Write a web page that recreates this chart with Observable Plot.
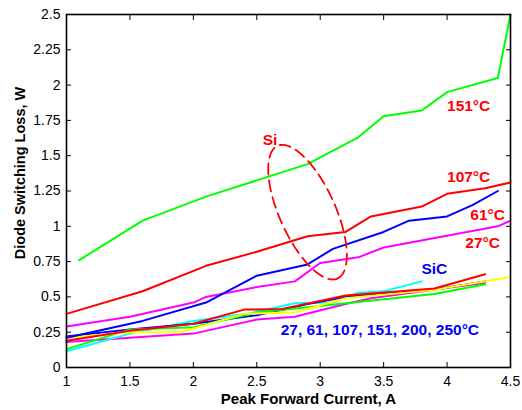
<!DOCTYPE html>
<html>
<head>
<meta charset="utf-8">
<script src="https://cdn.jsdelivr.net/npm/d3@7"></script>
<script src="https://cdn.jsdelivr.net/npm/@observablehq/plot@0.6"></script>
<style>
  html, body { margin: 0; padding: 0; background: white; }
</style>
</head>
<body>
<div id="chart"></div>
<script>
// ---- Axis ticks ----
const xTicks = [1, 1.5, 2, 2.5, 3, 3.5, 4, 4.5];
const yTicks = [0, 0.25, 0.5, 0.75, 1, 1.25, 1.5, 1.75, 2, 2.25, 2.5];

// ---- Si diode series (x = peak forward current A, y = loss W) ----
const si27X  = [1, 1.5, 2.0, 2.1, 2.5, 2.8, 3.0, 3.3, 3.5, 4.4, 4.5];
const si27Y  = [0.29, 0.36, 0.46, 0.50, 0.57, 0.61, 0.74, 0.78, 0.85, 1.0, 1.04];
const si61X  = [1, 1.6, 2.1, 2.5, 2.9, 3.1, 3.5, 3.7, 4.0, 4.2, 4.4];
const si61Y  = [0.21, 0.33, 0.46, 0.65, 0.73, 0.84, 0.96, 1.04, 1.07, 1.15, 1.25];
const si107X = [1, 1.6, 2.1, 2.5, 2.9, 3.2, 3.4, 3.8, 4.0, 4.3, 4.5];
const si107Y = [0.38, 0.54, 0.72, 0.82, 0.93, 0.96, 1.07, 1.14, 1.23, 1.27, 1.31];
const si151X = [1.1, 1.6, 2.1, 2.9, 3.3, 3.5, 3.8, 4.0, 4.4, 4.5];
const si151Y = [0.76, 1.04, 1.21, 1.44, 1.63, 1.78, 1.82, 1.95, 2.05, 2.5];

// ---- SiC diode series ----
const sicRedX     = [1, 1.5, 2.0, 2.4, 2.7, 3.2, 3.9, 4.3];
const sicRedY     = [0.19, 0.26, 0.31, 0.41, 0.415, 0.51, 0.56, 0.66];
const sicYellowX  = [1, 1.5, 1.9, 2.4, 2.8, 3.2, 3.9, 4.5];
const sicYellowY  = [0.21, 0.25, 0.25, 0.38, 0.39, 0.49, 0.55, 0.64];
const sicGreenX   = [1, 1.5, 2.0, 2.5, 3.15, 3.9, 4.3];
const sicGreenY   = [0.13, 0.27, 0.285, 0.39, 0.45, 0.52, 0.59];
const sicCyanX    = [1, 1.5, 2.0, 2.45, 2.8, 3.1, 3.3, 3.5, 3.8];
const sicCyanY    = [0.115, 0.24, 0.33, 0.385, 0.455, 0.46, 0.53, 0.54, 0.61];
const sicBlueX    = [1, 1.5, 2.0, 2.5, 2.9, 3.2, 3.95, 4.3];
const sicBlueY    = [0.22, 0.27, 0.31, 0.37, 0.45, 0.50, 0.56, 0.61];
const sicMagentaX = [1, 1.5, 2.0, 2.5, 2.8, 3.2, 3.4, 4.3];
const sicMagentaY = [0.18, 0.21, 0.24, 0.34, 0.36, 0.45, 0.49, 0.60];

// ---- Annotations ----
const annotText  = ["151°C", "107°C", "61°C", "27°C", "SiC", "27, 61, 107, 151, 200, 250°C", "Si"];
const annotX     = [4.17, 4.17, 4.32, 4.28, 3.90, 3.47, 2.605];
const annotY     = [1.855, 1.35, 1.08, 0.88, 0.70, 0.267, 1.61];
const annotColor = ["#ff0000", "#ff0000", "#ff0000", "#ff0000", "#0000ff", "#0000ff", "#ff0000"];

// Si grouping ellipse (data units): center, semi-major & semi-minor vectors
const ellipseCenter = [2.90, 1.10];
const ellipseMajor  = [0.236, -0.470];
const ellipseMinor  = [0.201, 0.081];

const series = [
  {x: sicMagentaX, y: sicMagentaY, c: "#ff00ff"},
  {x: sicCyanX,    y: sicCyanY,    c: "#00ffff"},
  {x: sicBlueX,    y: sicBlueY,    c: "#0000ff"},
  {x: sicGreenX,   y: sicGreenY,   c: "#00ff00"},
  {x: sicYellowX,  y: sicYellowY,  c: "#ffff00"},
  {x: sicRedX,     y: sicRedY,     c: "#ff0000"},
  {x: si27X,  y: si27Y,  c: "#ff00ff"},
  {x: si61X,  y: si61Y,  c: "#0000ff"},
  {x: si107X, y: si107Y, c: "#ff0000"},
  {x: si151X, y: si151Y, c: "#00ff00"}
];

const ellipsePts = d3.range(0, 361, 3).map(deg => {
  const t = deg * Math.PI / 180;
  return {
    x: ellipseCenter[0] + Math.cos(t) * ellipseMajor[0] + Math.sin(t) * ellipseMinor[0],
    y: ellipseCenter[1] + Math.cos(t) * ellipseMajor[1] + Math.sin(t) * ellipseMinor[1]
  };
});

const annots = annotText.map((t, i) => ({t, x: annotX[i], y: annotY[i], c: annotColor[i]}));

const font = "'Liberation Sans', Arial, Helvetica, sans-serif";
const fmt = d => String(d);

const chart = Plot.plot({
  width: 522,
  height: 410,
  marginLeft: 66,
  marginRight: 12,
  marginTop: 14,
  marginBottom: 43,
  x: {domain: [1, 4.5]},
  y: {domain: [0, 2.5]},
  style: {fontFamily: font, fontSize: "14px", background: "white", color: "black"},
  marks: [
    ...series.map(s => Plot.line(s.x.map((x, i) => [x, s.y[i]]), {
      x: d => d[0], y: d => d[1], stroke: s.c, strokeWidth: 2
    })),
    Plot.line(ellipsePts, {x: "x", y: "y", stroke: "#ff0000", strokeWidth: 1.8, strokeDasharray: "11,6"}),
    Plot.text(annots, {x: "x", y: "y", text: "t", fill: "c", fontWeight: "bold", fontSize: 15.5}),
    Plot.axisX({ticks: xTicks, tickSize: -5, tickPadding: 14, tickFormat: fmt, label: null, fontSize: 14}),
    Plot.axisX({anchor: "top", ticks: xTicks, tickSize: -5, tickFormat: () => "", label: null}),
    Plot.axisY({ticks: yTicks, tickSize: -5, tickPadding: 11, tickFormat: fmt, label: null, fontSize: 14}),
    Plot.axisY({anchor: "right", ticks: yTicks, tickSize: -5, tickFormat: () => "", label: null}),
    Plot.frame({stroke: "black", strokeWidth: 1.6}),
    Plot.text(["Peak Forward Current, A"], {frameAnchor: "bottom", textAnchor: "middle", lineAnchor: "middle", dy: 32, dx: 20, fontWeight: "bold", fontSize: 15}),
    Plot.text(["Diode Switching Loss, W"], {frameAnchor: "left", textAnchor: "middle", lineAnchor: "middle", rotate: -90, dx: -46, dy: -18, fontWeight: "bold", fontSize: 14.5})
  ]
});

document.getElementById("chart").appendChild(chart);
</script>
</body>
</html>
